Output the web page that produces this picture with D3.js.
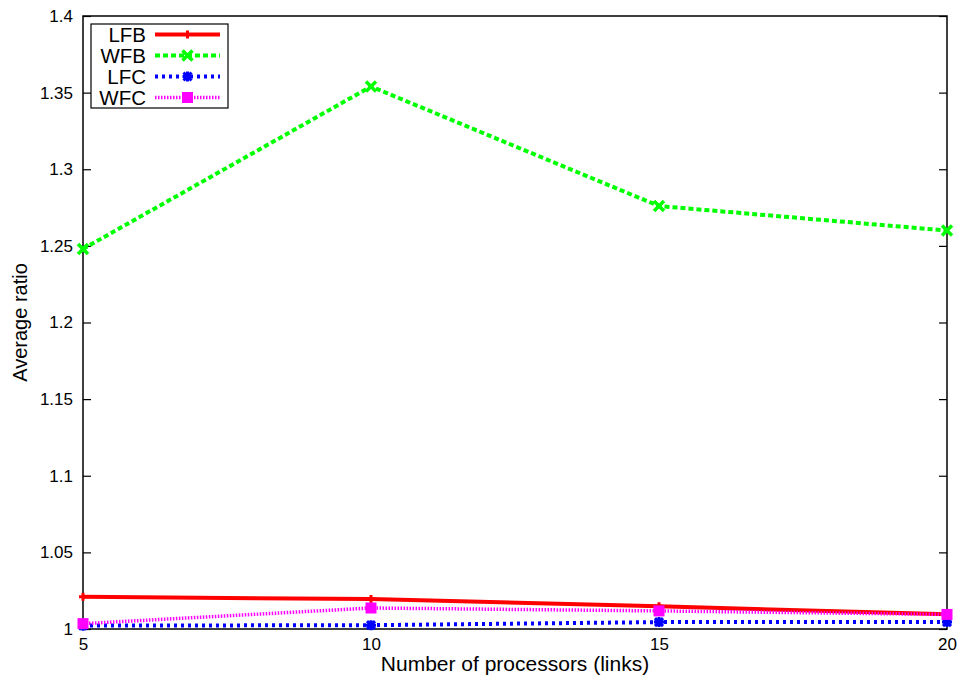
<!DOCTYPE html>
<html>
<head>
<meta charset="utf-8">
<script src="https://cdn.jsdelivr.net/npm/d3@7"></script>
<style>
  html, body { margin: 0; padding: 0; background: #fff; }
  svg { display: block; font-family: "Liberation Sans", Arial, sans-serif; }
</style>
</head>
<body>
<svg id="chart" width="962" height="679"></svg>
<script>
// Processor counts on the x axis
const processors = [5, 10, 15, 20];

// Average ratio for each heuristic
const seriesNames = ["LFB", "WFB", "LFC", "WFC"];
const lfb = [1.021, 1.0195, 1.0148, 1.0096];
const wfb = [1.248, 1.354, 1.276, 1.260];
const lfc = [1.0022, 1.0025, 1.0045, 1.0045];
const wfc = [1.0035, 1.0137, 1.0118, 1.0095];

const yTicks = [1, 1.05, 1.1, 1.15, 1.2, 1.25, 1.3, 1.35, 1.4];
const xTicks = [5, 10, 15, 20];

const styles = {
  LFB: { color: "#ff0000", width: 4, dash: null, marker: "plus" },
  WFB: { color: "#00ff00", width: 4, dash: "5,3", marker: "cross" },
  LFC: { color: "#0000ff", width: 4, dash: "3,4", marker: "star" },
  WFC: { color: "#ff00ff", width: 3.5, dash: "1.5,1.5", marker: "square" }
};

const series = [
  { name: "LFB", values: lfb },
  { name: "WFB", values: wfb },
  { name: "LFC", values: lfc },
  { name: "WFC", values: wfc }
];

const margin = { left: 83, right: 15, top: 16, bottom: 50 };
const W = 962, H = 679;
const x = d3.scaleLinear().domain([5, 20]).range([margin.left, W - margin.right]);
const y = d3.scaleLinear().domain([1, 1.4]).range([H - margin.bottom, margin.top]);

const svg = d3.select("#chart");

// plot frame with inward ticks on both vertical sides
const yAxisL = d3.axisLeft(y).tickValues(yTicks).tickSize(-8).tickPadding(10)
  .tickFormat(d => d3.format("")(+d.toFixed(2)));
const gyl = svg.append("g").attr("transform", `translate(${x(5)},0)`).call(yAxisL);
gyl.select(".domain").remove();
gyl.selectAll("text").attr("font-size", 17).attr("font-family", "Liberation Sans, Arial, sans-serif").attr("fill", "#000");
gyl.selectAll("line").attr("stroke", "#000").attr("stroke-width", 1.2);

const yAxisR = d3.axisRight(y).tickValues(yTicks).tickSize(-8).tickFormat("");
const gyr = svg.append("g").attr("transform", `translate(${x(20)},0)`).call(yAxisR);
gyr.select(".domain").remove();
gyr.selectAll("line").attr("stroke", "#000").attr("stroke-width", 1.2);

const xAxis = d3.axisBottom(x).tickValues(xTicks).tickSize(0).tickPadding(9).tickFormat(d3.format("d"));
const gx = svg.append("g").attr("transform", `translate(0,${y(1)})`).call(xAxis);
gx.select(".domain").remove();
gx.selectAll("text").attr("font-size", 17).attr("font-family", "Liberation Sans, Arial, sans-serif").attr("fill", "#000");

svg.append("rect")
  .attr("x", x(5)).attr("y", y(1.4))
  .attr("width", x(20) - x(5)).attr("height", y(1) - y(1.4))
  .attr("fill", "none").attr("stroke", "#000").attr("stroke-width", 1.5);

// axis titles
svg.append("text")
  .attr("x", (x(5) + x(20)) / 2).attr("y", 671)
  .attr("text-anchor", "middle").attr("font-size", 21)
  .text("Number of processors (links)");
svg.append("text")
  .attr("transform", `translate(27,${(y(1) + y(1.4)) / 2}) rotate(-90)`)
  .attr("text-anchor", "middle").attr("font-size", 20)
  .text("Average ratio");

function drawMarker(g, type, cx, cy, color) {
  const s = 5;
  if (type === "plus") {
    g.append("path").attr("d", `M${cx - 4},${cy}H${cx + 4}M${cx},${cy - 4}V${cy + 4}`)
      .attr("stroke", color).attr("stroke-width", 3).attr("fill", "none");
  } else if (type === "cross") {
    g.append("path").attr("d", `M${cx - s},${cy - s}L${cx + s},${cy + s}M${cx - s},${cy + s}L${cx + s},${cy - s}`)
      .attr("stroke", color).attr("stroke-width", 3.5).attr("fill", "none");
  } else if (type === "star") {
    g.append("path").attr("d",
      `M${cx - s},${cy}H${cx + s}M${cx},${cy - s}V${cy + s}M${cx - 4},${cy - 4}L${cx + 4},${cy + 4}M${cx - 4},${cy + 4}L${cx + 4},${cy - 4}`)
      .attr("stroke", color).attr("stroke-width", 3).attr("fill", "none");
  } else if (type === "square") {
    g.append("rect").attr("x", cx - 5.5).attr("y", cy - 5.5).attr("width", 11).attr("height", 11)
      .attr("fill", color);
  }
}

const line = d3.line().x((d, i) => x(processors[i])).y(d => y(d));
const plot = svg.append("g");
series.forEach(s => {
  const st = styles[s.name];
  const g = plot.append("g");
  g.append("path").datum(s.values).attr("d", line)
    .attr("fill", "none").attr("stroke", st.color).attr("stroke-width", st.width)
    .attr("stroke-dasharray", st.dash);
  s.values.forEach((v, i) => drawMarker(g, st.marker, x(processors[i]), y(v), st.color));
});

// legend
const lg = svg.append("g");
lg.append("rect").attr("x", 91).attr("y", 24).attr("width", 137).attr("height", 84)
  .attr("fill", "#fff").attr("stroke", "#000").attr("stroke-width", 1.2);
seriesNames.forEach((name, i) => {
  const st = styles[name];
  const cy = 34.5 + i * 21;
  lg.append("text").attr("x", 146).attr("y", cy).attr("dy", "0.36em")
    .attr("text-anchor", "end").attr("font-size", 20.5).text(name);
  lg.append("line").attr("x1", 155).attr("x2", 220).attr("y1", cy).attr("y2", cy)
    .attr("stroke", st.color).attr("stroke-width", st.width).attr("stroke-dasharray", st.dash);
  drawMarker(lg, st.marker, 187.5, cy, st.color);
});
</script>
</body>
</html>
